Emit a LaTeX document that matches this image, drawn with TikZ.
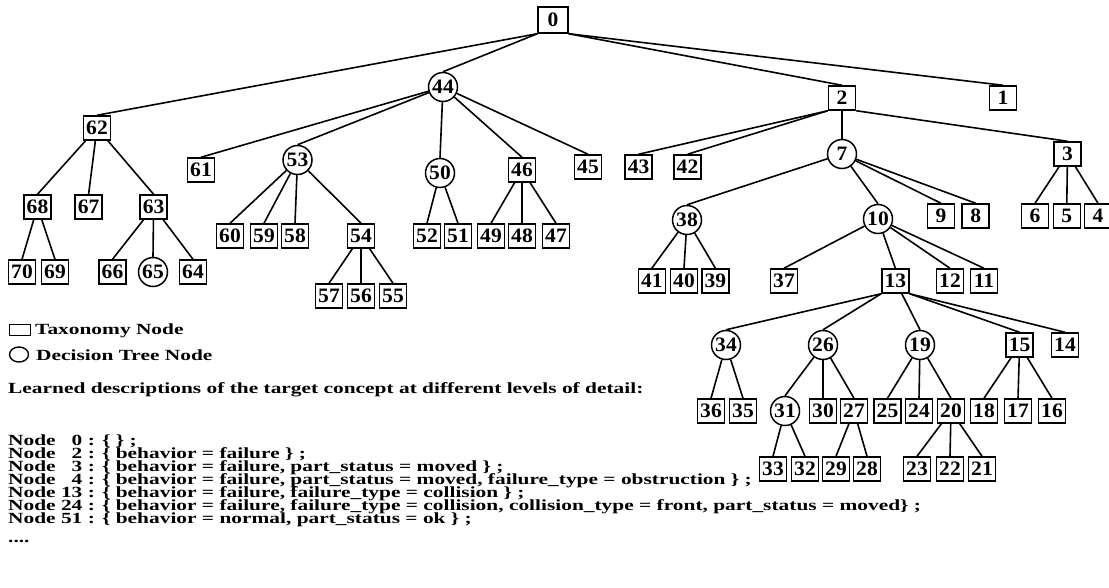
\documentclass[tikz,border=0pt]{standalone}
\usepackage{fontspec}
\setmainfont{Liberation Serif}
\newfontfamily\txtfont[FakeStretch=1.38]{Liberation Serif}
\newfontfamily\numfont[FakeStretch=1.05]{Liberation Serif}
\usetikzlibrary{calc,shapes.geometric}
\newcommand\bxedge[2]{\draw[edgeline] let \p1=(#1.center),\p2=(#2.north),\p3=(#1.south east),
  \n1={max(\x1-\x3,min(\x3-\x1,(\x2-\x1)*(\y1-\y3)/(\y1-\y2)))} in ([xshift=\n1]#1.south) -- (#2.north);}
\newcommand\ciedge[2]{\draw[edgeline] (#1) -- (#2.north);}
\begin{document}
\begin{tikzpicture}[x=1pt,y=-1pt,
  tx/.style={draw,line width=1.5pt,rectangle,minimum width=27pt,minimum height=24pt,inner sep=0.5pt,
    font=\numfont\bfseries\fontsize{20.5}{20.5}\selectfont},
  dt/.style={draw,line width=1.5pt,circle,minimum size=29pt,inner sep=0pt,
    font=\numfont\bfseries\fontsize{20.5}{20.5}\selectfont},
  edgeline/.style={line width=1.6pt},
  txt/.style={anchor=base west,inner sep=0pt,font=\txtfont\bfseries\fontsize{15.5}{12.8}\selectfont}]
\useasboundingbox (0,0) rectangle (1109,587);
% level 0/1
\node[tx,minimum width=30pt,minimum height=26pt] (n0) at (553,20) {0};
\node[dt] (n44) at (443,87) {44};
\node[tx] (n2) at (842,98) {2};
\node[tx] (n1) at (1003,98) {1};
\node[tx] (n62) at (97,128) {62};
% level 2
\node[tx] (n61) at (201,170) {61};
\node[dt] (n53) at (297.5,160) {53};
\node[dt] (n50) at (440,173) {50};
\node[tx] (n46) at (522,170) {46};
\node[tx] (n45) at (588,167) {45};
\node[tx] (n43) at (638.6,167) {43};
\node[tx] (n42) at (687.5,167) {42};
\node[dt] (n7) at (842,154) {7};
\node[tx] (n3) at (1067.5,154) {3};
\node[tx] (n68) at (37.5,207) {68};
\node[tx] (n67) at (88.6,207) {67};
\node[tx] (n63) at (153.6,207) {63};
% level 3
\node[tx] (n60) at (230,236) {60};
\node[tx] (n59) at (264,236) {59};
\node[tx] (n58) at (295,236) {58};
\node[tx] (n54) at (361,236) {54};
\node[tx] (n52) at (427,236) {52};
\node[tx] (n51) at (458,236) {51};
\node[tx] (n49) at (491,236) {49};
\node[tx] (n48) at (522,236) {48};
\node[tx] (n47) at (556,236) {47};
\node[dt] (n38) at (687,220) {38};
\node[dt] (n10) at (878,219) {10};
\node[tx] (n9) at (941,216) {9};
\node[tx] (n8) at (975.7,216) {8};
\node[tx] (n6) at (1035,216) {6};
\node[tx] (n5) at (1066.8,216) {5};
\node[tx] (n4) at (1098,216) {4};
\node[tx] (n70) at (22,272) {70};
\node[tx] (n69) at (55,272) {69};
\node[tx] (n66) at (112.5,272) {66};
\node[dt] (n65) at (153,272) {65};
\node[tx] (n64) at (193,272) {64};
\node[tx] (n57) at (329,296) {57};
\node[tx] (n56) at (361,296) {56};
\node[tx] (n55) at (393,296) {55};
\node[tx] (n41) at (651.8,281) {41};
\node[tx] (n40) at (684,281) {40};
\node[tx] (n39) at (715.4,281) {39};
\node[tx] (n37) at (784,281) {37};
\node[tx] (n13) at (895.4,281) {13};
\node[tx] (n12) at (950,281) {12};
\node[tx] (n11) at (984,281) {11};
% level 5
\node[dt] (n34) at (726,345) {34};
\node[dt] (n26) at (823,345) {26};
\node[dt] (n19) at (920,345) {19};
\node[tx] (n15) at (1019.6,345) {15};
\node[tx] (n14) at (1065,345) {14};
\node[tx] (n36) at (711,411) {36};
\node[tx] (n35) at (743,411) {35};
\node[dt] (n31) at (785,411) {31};
\node[tx] (n30) at (823,411) {30};
\node[tx] (n27) at (854,411) {27};
\node[tx] (n25) at (887.5,411) {25};
\node[tx] (n24) at (919,411) {24};
\node[tx] (n20) at (951,411) {20};
\node[tx] (n18) at (984,411) {18};
\node[tx] (n17) at (1018,411) {17};
\node[tx] (n16) at (1052,411) {16};
\node[tx] (n33) at (773,469) {33};
\node[tx] (n32) at (805,469) {32};
\node[tx] (n29) at (836,469) {29};
\node[tx] (n28) at (867,469) {28};
\node[tx] (n23) at (917,469) {23};
\node[tx] (n22) at (950,469) {22};
\node[tx] (n21) at (982,469) {21};
% edges
\bxedge{n0}{n62}\bxedge{n0}{n44}\bxedge{n0}{n2}\bxedge{n0}{n1}
\bxedge{n62}{n68}\bxedge{n62}{n67}\bxedge{n62}{n63}
\bxedge{n68}{n70}\bxedge{n68}{n69}
\bxedge{n63}{n66}\bxedge{n63}{n65}\bxedge{n63}{n64}
\ciedge{n44}{n61}\ciedge{n44}{n53}\ciedge{n44}{n50}\ciedge{n44}{n46}\ciedge{n44}{n45}
\ciedge{n53}{n60}\ciedge{n53}{n59}\ciedge{n53}{n58}\ciedge{n53}{n54}
\bxedge{n54}{n57}\bxedge{n54}{n56}\bxedge{n54}{n55}
\ciedge{n50}{n52}\ciedge{n50}{n51}
\bxedge{n46}{n49}\bxedge{n46}{n48}\bxedge{n46}{n47}
\bxedge{n2}{n43}\bxedge{n2}{n42}\bxedge{n2}{n7}\bxedge{n2}{n3}
\ciedge{n7}{n38}\ciedge{n7}{n10}\ciedge{n7}{n9}\ciedge{n7}{n8}
\ciedge{n38}{n41}\ciedge{n38}{n40}\ciedge{n38}{n39}
\ciedge{n10}{n37}\ciedge{n10}{n13}\ciedge{n10}{n12}\ciedge{n10}{n11}
\bxedge{n13}{n34}\bxedge{n13}{n26}\bxedge{n13}{n19}\bxedge{n13}{n15}\bxedge{n13}{n14}
\ciedge{n34}{n36}\ciedge{n34}{n35}
\ciedge{n26}{n31}\ciedge{n26}{n30}\ciedge{n26}{n27}
\ciedge{n31}{n33}\ciedge{n31}{n32}
\bxedge{n27}{n29}\bxedge{n27}{n28}
\ciedge{n19}{n25}\ciedge{n19}{n24}\ciedge{n19}{n20}
\bxedge{n20}{n23}\bxedge{n20}{n22}\bxedge{n20}{n21}
\bxedge{n15}{n18}\bxedge{n15}{n17}\bxedge{n15}{n16}
\bxedge{n3}{n6}\bxedge{n3}{n5}\bxedge{n3}{n4}
% legend
\node[draw,line width=1.2pt,rectangle,minimum width=21pt,minimum height=11pt,inner sep=0pt] (lsq) at (20,330) {};
\node[txt] (ltax) at (35,334) {Taxonomy Node};
\node[draw,line width=1.4pt,ellipse,minimum width=19pt,minimum height=15pt,inner sep=0pt] (lci) at (19,354.5) {};
\node[txt] (ldec) at (36,360) {Decision Tree Node};
\node[txt] (lhead) at (8,393) {Learned descriptions of the target concept at different levels of detail:};
% descriptions
\node[txt] (d0) at (8,445) {Node \phantom{1}0 : \{ \} ;};
\node[txt] (d2) at (8,458) {Node \phantom{1}2 : \{ behavior = failure \} ;};
\node[txt] (d3) at (8,471) {Node \phantom{1}3 : \{ behavior = failure, part\_status = moved \} ;};
\node[txt] (d4) at (8,484) {Node \phantom{1}4 : \{ behavior = failure, part\_status = moved, failure\_type = obstruction \} ;};
\node[txt] (d13) at (8,497) {Node 13 : \{ behavior = failure, failure\_type = collision \} ;};
\node[txt] (d24) at (8,510) {Node 24 : \{ behavior = failure, failure\_type = collision, collision\_type = front, part\_status = moved\} ;};
\node[txt] (d51) at (8,523) {Node 51 : \{ behavior = normal, part\_status = ok \} ;};
\node[txt] (dots) at (8,542) {....};
\end{tikzpicture}
\end{document}
